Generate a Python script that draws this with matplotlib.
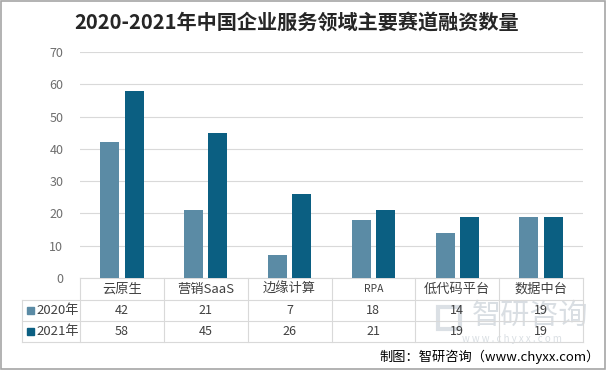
import matplotlib.pyplot as plt
from matplotlib.patches import Rectangle
import numpy as np

plt.rcParams['font.family'] = ['Noto Sans CJK SC', 'DejaVu Sans']

# data
categories = ['云原生', '营销SaaS', '边缘计算', 'RPA', '低代码平台', '数据中台']
series_names = ['2020年', '2021年']
values_2020 = [42, 21, 7, 18, 14, 19]
values_2021 = [58, 45, 26, 21, 19, 19]
colors = ['#5b8ba5', '#0b5f82']

W, H = 606, 370
fig = plt.figure(figsize=(W / 100, H / 100), dpi=100)

# plot area in pixels
x0, x1 = 80, 583
y_top, y_zero = 52, 278
ax = fig.add_axes([x0 / W, 1 - y_zero / H, (x1 - x0) / W, (y_zero - y_top) / H])

x = np.arange(len(categories))
bw = 0.225
ax.bar(x - 0.145, values_2020, bw, color=colors[0], zorder=3)
ax.bar(x + 0.145, values_2021, bw, color=colors[1], zorder=3)

ax.set_xlim(-0.5, len(categories) - 0.5)
ax.set_ylim(0, 70)
ax.set_yticks(range(0, 71, 10))
ax.yaxis.grid(True, color='#d9d9d9', lw=0.8, zorder=0)
ax.set_xticks([])
ax.tick_params(axis='y', length=0, labelsize=9, labelcolor='#6e6e6e', pad=12)
for s in ['left', 'right', 'top']:
    ax.spines[s].set_visible(False)
ax.spines['bottom'].set_color('#d9d9d9')

# data table under the plot
def fy(py):
    return 1 - py / H

def fx(px):
    return px / W

line_c = '#d9d9d9'
tl = 22
for yy in [300, 321, 342]:
    fig.add_artist(plt.Line2D([fx(tl), fx(x1)], [fy(yy), fy(yy)], color=line_c, lw=0.8))
col_w = (x1 - x0) / len(categories)
for k in range(len(categories) + 1):
    xx = x0 + k * col_w
    fig.add_artist(plt.Line2D([fx(xx), fx(xx)], [fy(278), fy(342)], color=line_c, lw=0.8))
fig.add_artist(plt.Line2D([fx(tl), fx(tl)], [fy(300), fy(342)], color=line_c, lw=0.8))

# watermark (behind the table text)
wm = '#cdd4da'
fig.text(fx(530), fy(316), '智研咨询', ha='center', va='center', fontsize=21, color=wm, alpha=0.75, zorder=0)
fig.text(fx(512), fy(339), 'w w w . c h y x x . c o m', ha='center', va='center', fontsize=7, color=wm, alpha=0.75, zorder=0)
fig.add_artist(Rectangle((fx(438), fy(329)), 22 / W, 22 / H, facecolor='none', edgecolor=wm, lw=3, alpha=0.7, zorder=0))

for i, c in enumerate(categories):
    cx = x0 + (i + 0.5) * col_w
    fs = 7.5 if c == 'RPA' else 9.5
    fig.text(fx(cx), fy(289), c, ha='center', va='center', fontsize=fs, color='#404040')
    fig.text(fx(cx), fy(310.5), str(values_2020[i]), ha='center', va='center', fontsize=9, color='#404040')
    fig.text(fx(cx), fy(331.5), str(values_2021[i]), ha='center', va='center', fontsize=9, color='#404040')

for j, (name, col) in enumerate(zip(series_names, colors)):
    yc = 310.5 + j * 21
    fig.add_artist(Rectangle((fx(27), fy(yc + 3.5)), 7 / W, 7 / H, color=col))
    fig.text(fx(36), fy(yc), name, ha='left', va='center', fontsize=9.5, color='#404040')

# title
fig.text(fx(297), fy(22), '2020-2021年中国企业服务领域主要赛道融资数量', ha='center', va='center',
         fontsize=14.5, fontweight='bold', color='#262626')

# source
fig.text(fx(600), fy(357), '制图：智研咨询（www.chyxx.com）', ha='right', va='center', fontsize=9.5, color='#000000')

# outer border
fig.add_artist(Rectangle((0.001, 0.002), 0.997, 0.995, facecolor='none', edgecolor='#a6a6a6', lw=1.2))

fig.savefig('out.png', dpi=100)
